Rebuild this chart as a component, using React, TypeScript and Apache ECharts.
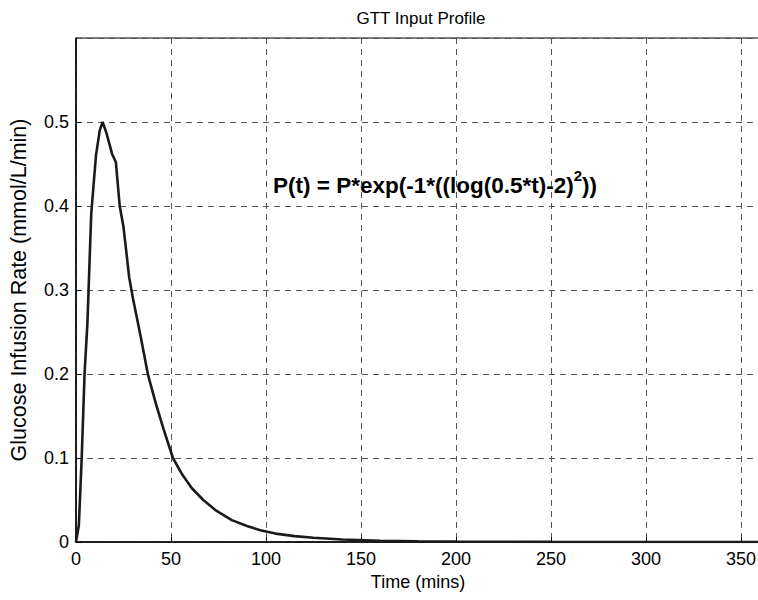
import React, { useEffect, useRef } from "react";
import * as echarts from "echarts";

const titleText = "GTT Input Profile";
const xName = "Time (mins)";
const yName = "Glucose Infusion Rate (mmol/L/min)";
const formulaMain = "P(t) = P*exp(-1*((log(0.5*t)-2)";
const formulaSup = "2";
const formulaEnd = "))";

// Time samples (mins) and infusion rate values
const times = [0, 1.5, 3, 4.5, 6, 8, 10.5, 12.5, 14, 16, 19, 21, 23, 25, 28, 30, 34, 38, 42, 46, 51, 56, 61, 67, 74, 82, 90, 97, 105, 115, 125, 140, 160, 180, 200, 250, 300, 360];
const rates = [0, 0.02, 0.1, 0.2, 0.26, 0.39, 0.46, 0.49, 0.5, 0.487, 0.462, 0.452, 0.4, 0.375, 0.315, 0.29, 0.245, 0.198, 0.165, 0.135, 0.1, 0.08, 0.064, 0.05, 0.037, 0.026, 0.019, 0.014, 0.01, 0.007, 0.005, 0.003, 0.0015, 0.0008, 0.0005, 0.0001, 0, 0];

const xMin = 0;
const xMax = 360;
const xInterval = 50;
const yMin = 0;
const yMax = 0.6;
const yInterval = 0.1;

export default function App() {
  const ref = useRef<HTMLDivElement>(null);
  useEffect(() => {
    if (!ref.current) return;
    const chart = echarts.init(ref.current, undefined, { renderer: "svg" });
    const font = "Arial, 'Liberation Sans', Helvetica, sans-serif";
    const data = times.map((t, i) => [t, rates[i]]);
    chart.setOption({
      animation: false,
      backgroundColor: "#ffffff",
      title: {
        text: titleText,
        left: 416,
        top: 5,
        textAlign: "center",
        textStyle: { fontFamily: font, fontSize: 17, fontWeight: "normal", color: "#000" },
      },
      grid: {
        left: 76,
        top: 38,
        width: 684,
        height: 504,
        outerBoundsMode: "none",
        containLabel: false,
        show: true,
        borderColor: "#000",
        borderWidth: 1,
        backgroundColor: "#fff",
      },
      xAxis: {
        type: "value",
        min: xMin,
        max: xMax,
        interval: xInterval,
        name: xName,
        nameLocation: "middle",
        nameGap: 27,
        nameTextStyle: { fontFamily: font, fontSize: 18, color: "#000" },
        axisLine: { show: true, onZero: false, lineStyle: { color: "#000", width: 1.5 } },
        axisTick: { show: true, inside: true, length: 5, lineStyle: { color: "#000" } },
        axisLabel: { fontFamily: font, fontSize: 18, color: "#000", margin: 8 },
        splitLine: { show: true, lineStyle: { color: "#555", type: [6, 5], width: 1 } },
      },
      yAxis: {
        type: "value",
        min: yMin,
        max: yMax,
        interval: yInterval,
        name: yName,
        nameLocation: "middle",
        nameGap: 46,
        nameTextStyle: { fontFamily: font, fontSize: 21.5, color: "#000" },
        axisLine: { show: true, onZero: false, lineStyle: { color: "#000", width: 1.5 } },
        axisTick: { show: true, inside: true, length: 5, lineStyle: { color: "#000" } },
        axisLabel: {
          fontFamily: font,
          fontSize: 18,
          color: "#000",
          margin: 7,
          showMaxLabel: false,
          formatter: (v: number) => (v === 0 ? "0" : String(Math.round(v * 10) / 10)),
        },
        splitLine: { show: true, lineStyle: { color: "#555", type: [6, 5], width: 1 } },
      },
      graphic: [
        {
          type: "text",
          left: 273,
          top: 168,
          style: {
            text: `{m|${formulaMain}}{s|${formulaSup}}{m|${formulaEnd}}`,
            rich: {
              m: { fontFamily: font, fontSize: 22.5, fontWeight: "bold", fill: "#000", verticalAlign: "bottom" },
              s: { fontFamily: font, fontSize: 15, fontWeight: "bold", fill: "#000", verticalAlign: "top", padding: [0, 0, 14, 0] },
            },
          },
        },
      ],
      series: [
        {
          type: "line",
          data,
          showSymbol: false,
          smooth: false,
          lineStyle: { color: "#1a1a1a", width: 2.6 },
        },
      ],
    });
    return () => chart.dispose();
  }, []);
  return <div ref={ref} style={{ position: "absolute", left: 0, top: 0, width: 758, height: 600 }} />;
}
